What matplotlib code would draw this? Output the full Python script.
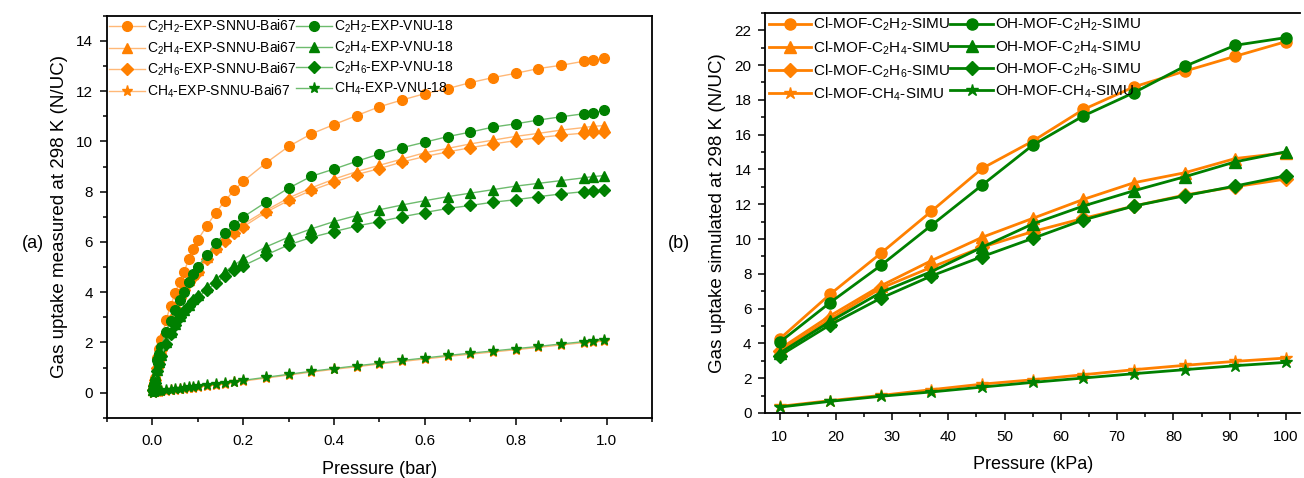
import matplotlib
matplotlib.use("Agg")
import matplotlib.pyplot as plt
from matplotlib.ticker import MultipleLocator

plt.rcParams['font.family'] = ['Liberation Sans', 'DejaVu Sans']
plt.rcParams['mathtext.fontset'] = 'custom'
plt.rcParams['mathtext.rm'] = 'Liberation Sans'
plt.rcParams['mathtext.it'] = 'Liberation Sans:italic'

ORANGE = '#FF8000'
GREEN = '#008000'

# ---- panel (a): experimental isotherms ----
p_bar = [0.001, 0.003, 0.005, 0.01, 0.015, 0.02, 0.03, 0.04, 0.05, 0.06, 0.07, 0.08,
         0.09, 0.1, 0.12, 0.14, 0.16, 0.18, 0.2, 0.25, 0.3, 0.35, 0.4, 0.45, 0.5,
         0.55, 0.6, 0.65, 0.7, 0.75, 0.8, 0.85, 0.9, 0.95, 0.97, 0.995]

c2h2_bai = [0.15, 0.36, 0.6, 1.36, 1.75, 2.09, 2.89, 3.45, 3.95, 4.42, 4.82, 5.3,
            5.7, 6.08, 6.64, 7.17, 7.64, 8.05, 8.41, 9.14, 9.8, 10.3, 10.67, 11.03, 11.38,
            11.65, 11.9, 12.1, 12.34, 12.54, 12.71, 12.9, 13.03, 13.19, 13.23, 13.3]
c2h4_bai = [0.12, 0.3, 0.5, 1.05, 1.4, 1.75, 2.4, 2.95, 3.45, 3.85, 4.2, 4.5,
            4.72, 4.9, 5.4, 5.8, 6.15, 6.45, 6.7, 7.25, 7.75, 8.15, 8.5, 8.8, 9.05,
            9.3, 9.55, 9.72, 9.9, 10.05, 10.2, 10.32, 10.45, 10.55, 10.6, 10.63]
c2h6_bai = [0.12, 0.3, 0.5, 1.0, 1.35, 1.7, 2.35, 2.9, 3.35, 3.75, 4.1, 4.4,
            4.62, 4.8, 5.3, 5.7, 6.05, 6.35, 6.6, 7.18, 7.65, 8.05, 8.38, 8.68, 8.92,
            9.18, 9.4, 9.58, 9.75, 9.9, 10.03, 10.15, 10.25, 10.33, 10.36, 10.38]
ch4_bai = [0.0, 0.01, 0.01, 0.03, 0.04, 0.05, 0.07, 0.1, 0.12, 0.14, 0.16, 0.18,
           0.2, 0.22, 0.27, 0.31, 0.36, 0.41, 0.46, 0.58, 0.7, 0.82, 0.93, 1.03, 1.14,
           1.24, 1.34, 1.44, 1.53, 1.62, 1.71, 1.8, 1.9, 1.99, 2.02, 2.05]

c2h2_vnu = [0.12, 0.3, 0.5, 1.29, 1.55, 1.82, 2.42, 2.86, 3.29, 3.69, 4.02, 4.42,
            4.72, 5.02, 5.48, 5.95, 6.35, 6.68, 6.99, 7.58, 8.14, 8.61, 8.9, 9.21, 9.5,
            9.75, 9.97, 10.19, 10.37, 10.57, 10.7, 10.85, 10.98, 11.1, 11.14, 11.23]
c2h4_vnu = [0.1, 0.25, 0.4, 0.9, 1.2, 1.5, 2.0, 2.4, 2.75, 3.05, 3.3, 3.5,
            3.72, 3.9, 4.22, 4.52, 4.82, 5.08, 5.32, 5.8, 6.19, 6.52, 6.81, 7.05, 7.28,
            7.47, 7.64, 7.8, 7.94, 8.08, 8.22, 8.33, 8.44, 8.55, 8.6, 8.64]
c2h6_vnu = [0.1, 0.25, 0.4, 0.88, 1.15, 1.45, 1.95, 2.35, 2.7, 3.0, 3.25, 3.45,
            3.65, 3.8, 4.08, 4.38, 4.65, 4.88, 5.05, 5.48, 5.88, 6.18, 6.41, 6.63, 6.81,
            7.0, 7.17, 7.33, 7.45, 7.58, 7.68, 7.8, 7.91, 8.0, 8.03, 8.06]
ch4_vnu = [0.0, 0.02, 0.03, 0.05, 0.06, 0.08, 0.1, 0.12, 0.14, 0.16, 0.18, 0.21,
           0.23, 0.25, 0.3, 0.34, 0.39, 0.44, 0.49, 0.61, 0.73, 0.85, 0.96, 1.07, 1.17,
           1.28, 1.38, 1.48, 1.57, 1.66, 1.75, 1.84, 1.94, 2.03, 2.06, 2.1]

# ---- panel (b): simulated isotherms ----
p_kpa = [10, 19, 28, 37, 46, 55, 64, 73, 82, 91, 100]
cl_c2h2 = [4.25, 6.83, 9.18, 11.6, 14.06, 15.63, 17.45, 18.75, 19.65, 20.51, 21.35]
cl_c2h4 = [3.67, 5.59, 7.31, 8.76, 10.1, 11.19, 12.28, 13.24, 13.81, 14.63, 14.96]
cl_c2h6 = [3.54, 5.4, 7.17, 8.38, 9.53, 10.43, 11.19, 11.9, 12.53, 13.01, 13.45]
cl_ch4 = [0.38, 0.71, 1.01, 1.34, 1.66, 1.91, 2.2, 2.49, 2.74, 2.97, 3.16]
oh_c2h2 = [4.06, 6.35, 8.48, 10.79, 13.1, 15.4, 17.08, 18.42, 19.93, 21.14, 21.58]
oh_c2h4 = [3.44, 5.26, 6.93, 8.13, 9.53, 10.87, 11.9, 12.78, 13.58, 14.44, 15.02]
oh_c2h6 = [3.29, 5.07, 6.6, 7.88, 8.99, 10.04, 11.1, 11.9, 12.49, 13.05, 13.64]
oh_ch4 = [0.34, 0.67, 0.96, 1.21, 1.49, 1.76, 2.01, 2.26, 2.49, 2.72, 2.91]

gases = ['C$_2$H$_2$', 'C$_2$H$_4$', 'C$_2$H$_6$', 'CH$_4$']
markers = ['o', '^', 'D', '*']
msizes = [7, 7, 6, 8]

fig = plt.figure(figsize=(13.04, 4.78), dpi=100)
ax1 = fig.add_axes([0.082, 0.126, 0.418, 0.841])
ax2 = fig.add_axes([0.587, 0.136, 0.410, 0.837])

for series, lab in [((c2h2_bai, c2h4_bai, c2h6_bai, ch4_bai), 'EXP-SNNU-Bai67'),
                    ((c2h2_vnu, c2h4_vnu, c2h6_vnu, ch4_vnu), 'EXP-VNU-18')]:
    col = ORANGE if 'Bai67' in lab else GREEN
    lcol = '#FFB877' if 'Bai67' in lab else '#6DBB6D'
    for y, g, m, ms in zip(series, gases, markers, msizes):
        ax1.plot(p_bar, y, color=lcol, lw=1.0, marker=m, ms=ms,
                 mfc=col, mec=col, label=g + '-' + lab)

for series, lab, col in [((cl_c2h2, cl_c2h4, cl_c2h6, cl_ch4), 'Cl-MOF-', ORANGE),
                         ((oh_c2h2, oh_c2h4, oh_c2h6, oh_ch4), 'OH-MOF-', GREEN)]:
    for y, g, m, ms in zip(series, gases, markers, msizes):
        ax2.plot(p_kpa, y, color=col, lw=2.0, marker=m, ms=ms + 1,
                 mfc=col, mec=col, label=lab + g + '-SIMU')

for ax in (ax1, ax2):
    for s in ax.spines.values():
        s.set_linewidth(1.3)
    ax.tick_params(which='both', direction='out', labelsize=11, width=1.1)
    ax.tick_params(which='major', length=5)
    ax.tick_params(which='minor', length=3)
    ax.tick_params(axis='x', which='major', pad=7)
    ax.tick_params(axis='y', which='major', pad=5)
ax2.spines['right'].set_visible(False)

ax1.set_xlim(-0.1, 1.1)
ax1.set_ylim(-1, 15)
ax1.xaxis.set_major_locator(MultipleLocator(0.2))
ax1.xaxis.set_minor_locator(MultipleLocator(0.1))
ax1.yaxis.set_major_locator(MultipleLocator(2))
ax1.yaxis.set_minor_locator(MultipleLocator(1))
ax1.set_xticks([0.0, 0.2, 0.4, 0.6, 0.8, 1.0])
ax1.set_xlabel('Pressure (bar)', fontsize=13, labelpad=9)
ax1.set_ylabel('Gas uptake measured at 298 K (N/UC)', fontsize=13.5, labelpad=6)
ax1.legend(loc='upper left', ncol=2, frameon=False, fontsize=10,
           handlelength=2.6, handletextpad=0.1, columnspacing=0.0,
           labelspacing=0.3, borderaxespad=0.1, borderpad=0.05)

ax2.set_xlim(7.5, 102.5)
ax2.set_ylim(0, 23)
ax2.xaxis.set_major_locator(MultipleLocator(10))
ax2.xaxis.set_minor_locator(MultipleLocator(5))
ax2.set_xticks(range(10, 101, 10))
ax2.yaxis.set_major_locator(MultipleLocator(2))
ax2.yaxis.set_minor_locator(MultipleLocator(1))
ax2.set_xlabel('Pressure (kPa)', fontsize=13, labelpad=9)
ax2.set_ylabel('Gas uptake simulated at 298 K (N/UC)', fontsize=13.5, labelpad=6)
ax2.legend(loc='upper left', ncol=2, frameon=False, fontsize=11,
           handlelength=2.8, handletextpad=0.1, columnspacing=0.0,
           labelspacing=0.38, borderaxespad=0.15, borderpad=0.05)

fig.text(0.017, 0.49, '(a)', fontsize=13, va='center')
fig.text(0.512, 0.49, '(b)', fontsize=13, va='center')

fig.savefig('out.png', dpi=100)
